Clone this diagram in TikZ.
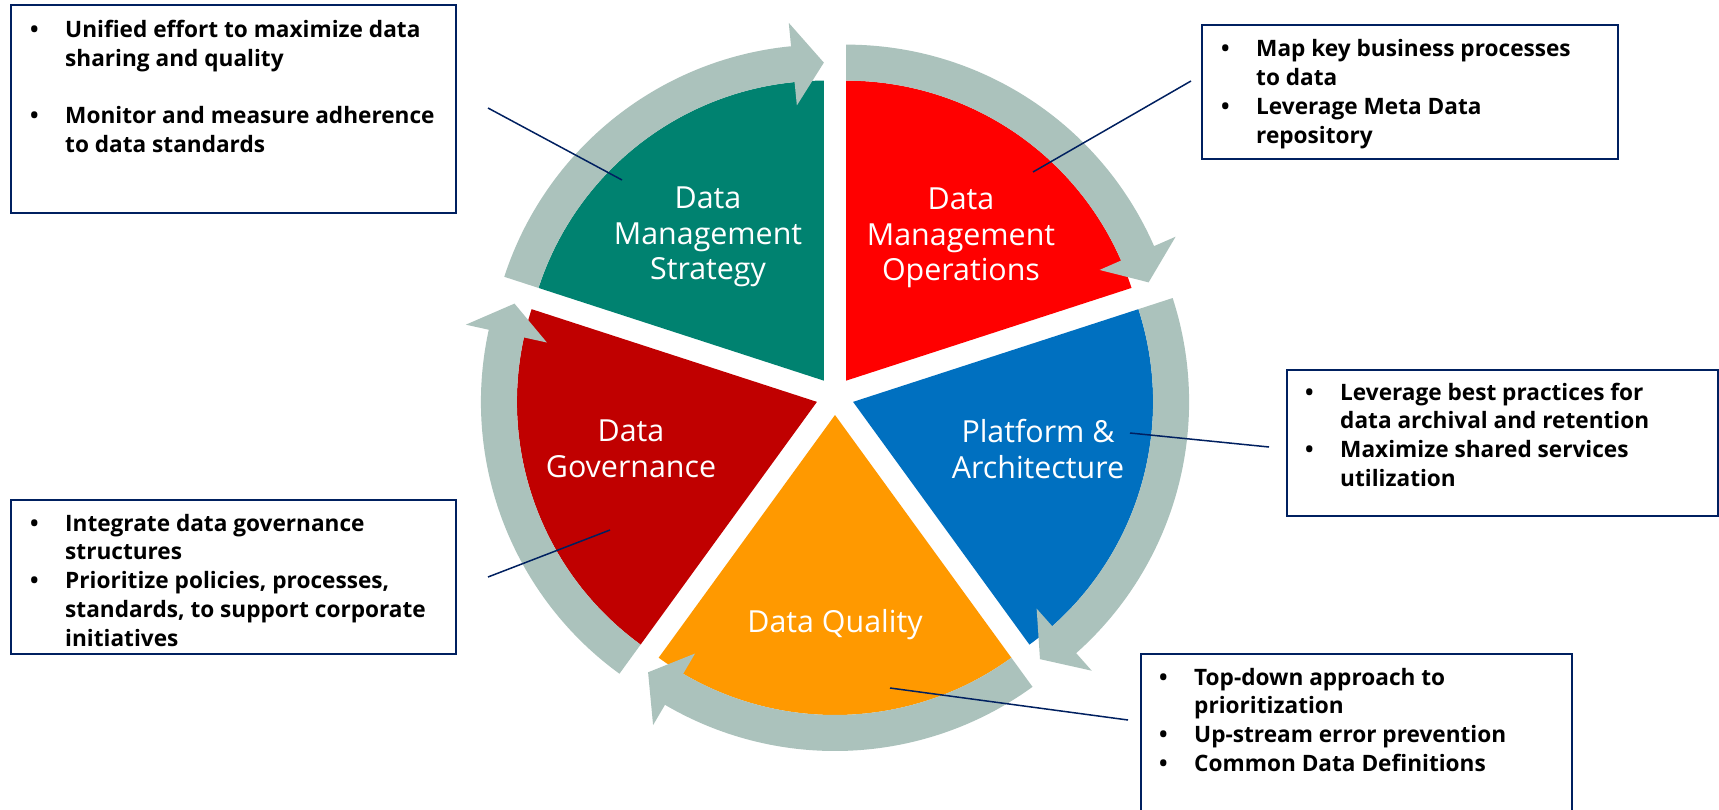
\documentclass[tikz,border=0pt]{standalone}
\usepackage{fontspec}
\setmainfont{Open Sans}
\definecolor{tealseg}{RGB}{0,130,112}
\definecolor{redseg}{RGB}{255,0,0}
\definecolor{blueseg}{RGB}{0,112,192}
\definecolor{orangeseg}{RGB}{255,153,0}
\definecolor{dredseg}{RGB}{192,0,0}
\definecolor{arrgray}{RGB}{171,194,188}
\definecolor{navy}{RGB}{0,32,96}
\tikzset{
  segarr/.style={fill=arrgray},
  lbl/.style={text=white, align=center, inner sep=0pt, font=\fontsize{30.5}{35.6}\selectfont},
  infobox/.style={draw=navy, line width=2bp, fill=white, anchor=north west, inner sep=0pt},
  infotext/.style={anchor=base west, inner sep=0pt, font=\bfseries\fontsize{22.7}{29}\selectfont},
  leader/.style={draw=navy, line width=1.5bp},
}
% #1 = clockwise end angle of the segment, #2 = colour
\newcommand\cycseg[2]{%
  \begin{scope}[shift={({#1+36}:19bp)}]
    \fill[#2] (0,0) -- ({#1}:300bp) arc[start angle={#1}, end angle={#1+72}, radius=300bp] -- cycle;
    \fill[segarr] ({#1+72}:300bp) -- ({#1+72}:336bp)
      arc[start angle={#1+72}, end angle={#1+5.6}, radius=336bp]
      -- ({#1+5.6}:359.5bp) -- ({#1}:318bp) -- ({#1+5.6}:276.5bp) -- ({#1+5.6}:300bp)
      arc[start angle={#1+5.6}, end angle={#1+72}, radius=300bp] -- cycle;
  \end{scope}}
\begin{document}
\begin{tikzpicture}[x=1bp,y=1bp]
\useasboundingbox (0,0) rectangle (1719,-810);
\fill[white] (0,0) rectangle (1719,-810);
% cycle
\begin{scope}[shift={(835,-396)}]
  \cycseg{90}{tealseg}
  \cycseg{18}{redseg}
  \cycseg{-54}{blueseg}
  \cycseg{-126}{orangeseg}
  \cycseg{162}{dredseg}
\end{scope}
% segment labels
\node[lbl] (strat) at (708,-237) {Data\\Management\\Strategy};
\node[lbl] (oper) at (961,-238) {Data\\Management\\Operations};
\node[lbl] (plat) at (1038,-449) {Platform \&\\Architecture};
\node[lbl] (qual) at (835,-625) {Data Quality};
\node[lbl] (gov) at (631,-449) {Data\\Governance};
% boxes
\node[infobox, minimum width=445bp, minimum height=208bp] (b1) at (10,-4) {};
\node[infobox, minimum width=416bp, minimum height=134bp] (b2) at (1201,-24) {};
\node[infobox, minimum width=431bp, minimum height=146bp] (b3) at (1286,-369) {};
\node[infobox, minimum width=431bp, minimum height=167bp] (b4) at (1140,-653) {};
\node[infobox, minimum width=445bp, minimum height=154bp] (b5) at (10,-499) {};
% box texts
\node[infotext] (t1) at (30,-38) {\begin{tabular}[t]{@{}p{35bp}@{}p{400bp}@{}}
\textbullet & Unified effort to maximize data\newline sharing and quality\\[28bp]
\textbullet & Monitor and measure adherence\newline to data standards
\end{tabular}};
\node[infotext] (t2) at (1221,-57) {\begin{tabular}[t]{@{}p{35bp}@{}p{370bp}@{}}
\textbullet & Map key business processes\newline to data\\
\textbullet & Leverage Meta Data\newline repository
\end{tabular}};
\node[infotext] (t3) at (1305,-400) {\begin{tabular}[t]{@{}p{35bp}@{}p{390bp}@{}}
\textbullet & Leverage best practices for\newline data archival and retention\\
\textbullet & Maximize shared services\newline utilization
\end{tabular}};
\node[infotext] (t4) at (1159,-685) {\begin{tabular}[t]{@{}p{35bp}@{}p{390bp}@{}}
\textbullet & Top-down approach to\newline prioritization\\
\textbullet & Up-stream error prevention\\
\textbullet & Common Data Definitions
\end{tabular}};
\node[infotext] (t5) at (30,-531) {\begin{tabular}[t]{@{}p{35bp}@{}p{410bp}@{}}
\textbullet & Integrate data governance\newline structures\\
\textbullet & Prioritize policies, processes,\newline standards, to support corporate\newline initiatives
\end{tabular}};
% leaders
\coordinate (l1a) at (488,-108); \coordinate (l1b) at (622,-180);
\coordinate (l2a) at (1191,-81); \coordinate (l2b) at (1033,-172);
\coordinate (l3a) at (1269,-447); \coordinate (l3b) at (1130,-433);
\coordinate (l4a) at (1128,-720); \coordinate (l4b) at (890,-688);
\coordinate (l5a) at (488,-577); \coordinate (l5b) at (610,-530);
\draw[leader] (l1a) -- (l1b);
\draw[leader] (l2a) -- (l2b);
\draw[leader] (l3a) -- (l3b);
\draw[leader] (l4a) -- (l4b);
\draw[leader] (l5a) -- (l5b);
\end{tikzpicture}
\end{document}
